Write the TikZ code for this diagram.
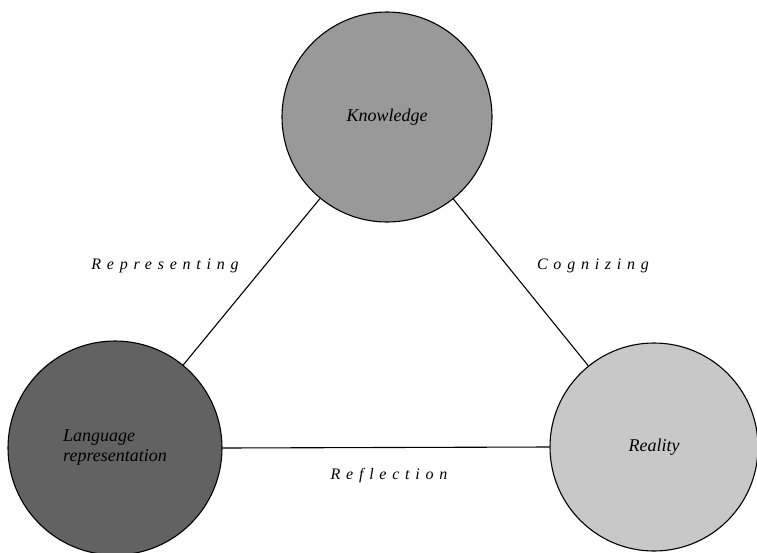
\documentclass[tikz,border=0pt]{standalone}
\usepackage{fontspec}
\setmainfont{Liberation Serif}
\begin{document}
\begin{tikzpicture}[x=1pt,y=-1pt,
  ball/.style={circle,draw=black,line width=1.1pt,inner sep=0pt,font=\fontsize{18}{20}\selectfont\itshape},
  link/.style={line width=1.1pt},
  lbl/.style={font=\fontsize{16}{18}\selectfont\itshape\addfontfeature{LetterSpace=36}}]
\useasboundingbox (0,0) rectangle (757,552);
\node[ball,fill={rgb,255:red,153;green,153;blue,153},minimum size=210pt] (K) at (387,117) {Knowledge};
\node[ball,fill={rgb,255:red,98;green,98;blue,98},minimum size=214pt,align=left] (L) at (115,448) {Language\\representation};
\node[ball,fill={rgb,255:red,200;green,200;blue,200},minimum size=208pt] (R) at (654,447) {Reality};
\draw[link] (K) -- (L);
\draw[link] (K) -- (R);
\draw[link] (L.east) -- (R.west);
\node[lbl] (rep) at (165,266) {Representing};
\node[lbl] (cog) at (593,266) {Cognizing};
\node[lbl] (ref) at (389,476) {Reflection};
\end{tikzpicture}
\end{document}
